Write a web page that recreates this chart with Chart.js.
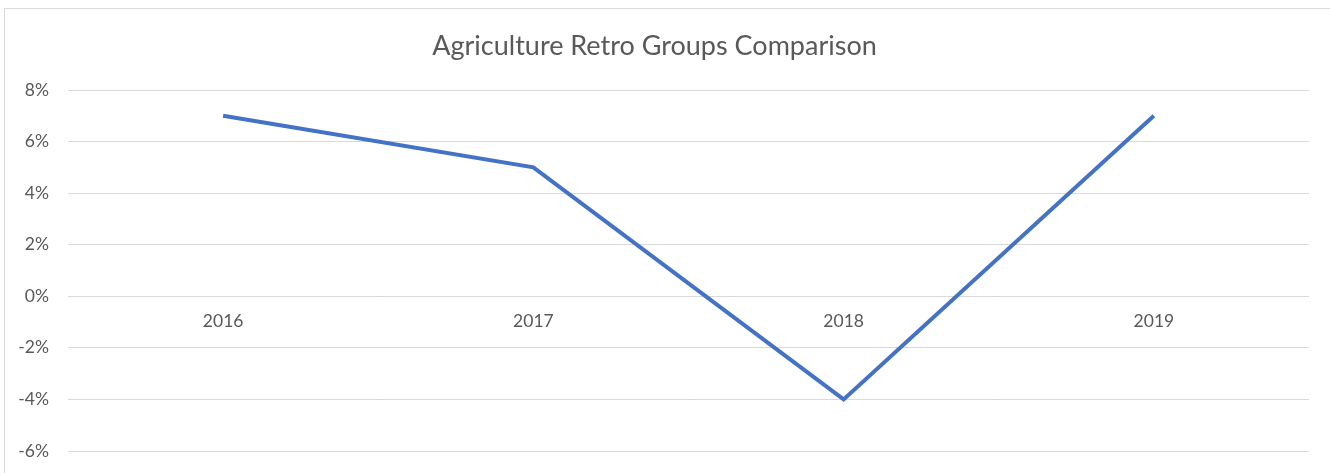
<!DOCTYPE html>
<html>
<head>
<meta charset="utf-8">
<script src="https://cdn.jsdelivr.net/npm/chart.js@4.4.1/dist/chart.umd.min.js"></script>
<style>
  html, body { margin: 0; padding: 0; background: #ffffff; }
  #wrap { position: relative; width: 1330px; height: 473px; }
</style>
</head>
<body>
<div id="wrap"><canvas id="c" width="1330" height="473"></canvas></div>
<script>
const categories = ['2016', '2017', '2018', '2019'];
const seriesValues = [7, 5, -4, 7];
const yTicks = [-6, -4, -2, 0, 2, 4, 6, 8];
const chartTitle = 'Agriculture Retro Groups Comparison';

const frame = {
  id: 'frame',
  beforeDraw(chart) {
    const ctx = chart.ctx;
    ctx.save();
    ctx.fillStyle = '#ffffff';
    ctx.fillRect(0, 0, chart.width, chart.height);
    ctx.strokeStyle = '#d9d9d9';
    ctx.lineWidth = 1;
    ctx.strokeRect(4.5, 8.5, chart.width + 10, chart.height + 10);
    ctx.restore();
  }
};

new Chart(document.getElementById('c'), {
  type: 'line',
  data: {
    labels: categories,
    datasets: [{
      data: seriesValues,
      borderColor: '#4472C4',
      backgroundColor: '#4472C4',
      borderWidth: 4,
      pointRadius: 0,
      tension: 0,
      fill: false
    }]
  },
  options: {
    responsive: false,
    animation: false,
    layout: { padding: { left: 0, right: 21, top: 0, bottom: 22 } },
    plugins: {
      legend: { display: false },
      tooltip: { enabled: false },
      title: {
        display: true,
        text: chartTitle,
        color: '#595959',
        font: { family: 'Lato', size: 27, weight: 'normal' },
        padding: { top: 30, bottom: 27.6 }
      }
    },
    scales: {
      x: {
        position: { y: 0 },
        offset: true,
        afterFit(scale) { scale.paddingTop = 0; scale.paddingBottom = 0; },
        grid: { display: false, drawTicks: false },
        border: { display: false },
        ticks: {
          color: '#595959',
          font: { family: 'Lato', size: 17.5 },
          padding: 15
        }
      },
      y: {
        min: yTicks[0],
        max: yTicks[yTicks.length - 1],
        afterBuildTicks(scale) { scale.ticks = yTicks.map(v => ({ value: v })); },
        afterFit(scale) { scale.width = 68; scale.paddingTop = 0; scale.paddingBottom = 0; },
        grid: { color: '#d9d9d9', lineWidth: 1, drawTicks: false },
        border: { display: false },
        ticks: {
          color: '#595959',
          font: { family: 'Lato', size: 17.5 },
          padding: 19,
          callback: v => v + '%'
        }
      }
    }
  },
  plugins: [frame]
});
</script>
</body>
</html>
